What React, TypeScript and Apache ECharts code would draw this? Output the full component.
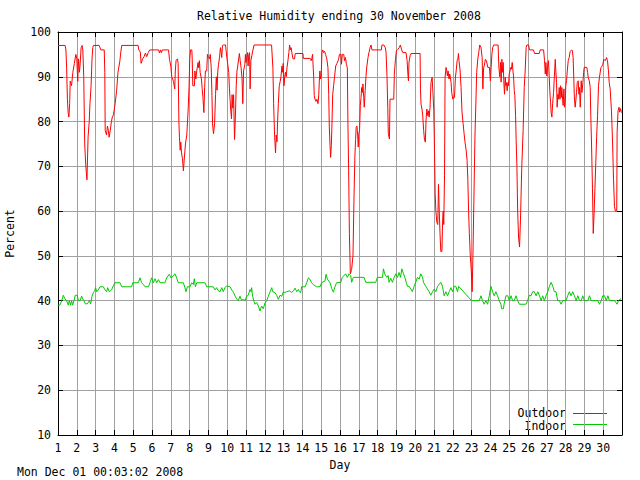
import React, { useEffect, useRef } from "react";
import * as echarts from "echarts";

const FONT = "DejaVu Sans Mono";

const chartTitle = "Relative Humidity ending 30 November 2008";
const footerText = "Mon Dec 01 00:03:02 2008";
const seriesNames = ["Outdoor", "Indoor"];
const dayLabels = Array.from({ length: 30 }, (_, i) => String(i + 1));

// [day of month (fractional), relative humidity %]
const outdoorHumidity: [number, number][] = [
  [1.0, 97], [1.38, 97], [1.42, 96], [1.46, 92], [1.5, 85], [1.54, 82], [1.58, 81], [1.62, 84], [1.65, 89],
  [1.72, 88], [1.79, 91], [1.87, 93], [1.95, 95], [2.0, 94], [2.05, 89], [2.09, 94], [2.14, 91], [2.18, 93],
  [2.23, 96.5], [2.28, 97], [2.32, 96], [2.37, 90], [2.42, 75], [2.48, 70], [2.54, 67], [2.6, 76.5], [2.66, 80],
  [2.7, 84], [2.76, 88], [2.81, 94], [2.85, 96.5], [2.89, 97], [3.19, 97], [3.28, 96], [3.46, 96], [3.49, 91],
  [3.51, 78], [3.58, 77], [3.63, 79], [3.68, 78], [3.72, 76.5], [3.78, 78], [3.84, 80], [3.89, 81], [3.95, 81.5],
  [4.04, 84], [4.12, 87], [4.19, 91], [4.29, 93.5], [4.34, 95.5], [4.39, 97], [5.26, 97], [5.3, 96], [5.38, 95.5],
  [5.42, 93], [5.5, 94], [5.58, 94.5], [5.65, 95.3], [5.72, 94.5], [5.8, 95.4], [5.88, 96], [6.35, 96], [6.4, 95.3],
  [6.45, 96], [6.5, 95.4], [6.55, 96], [6.88, 96], [6.93, 93.9], [7.0, 92.4], [7.05, 90], [7.14, 89], [7.21, 87.3],
  [7.24, 91.3], [7.28, 93.6], [7.35, 94], [7.39, 93], [7.43, 80], [7.46, 76.5], [7.5, 73.6], [7.53, 75.4], [7.57, 73],
  [7.62, 71.7], [7.67, 69], [7.71, 71.3], [7.78, 75], [7.85, 77], [7.92, 82.4], [7.97, 87.6], [8.01, 94], [8.05, 96],
  [8.12, 96], [8.14, 94], [8.17, 88], [8.26, 88], [8.28, 91.3], [8.33, 89.5], [8.38, 91.3], [8.45, 93.2], [8.49, 92],
  [8.52, 93.6], [8.56, 91], [8.63, 89.5], [8.67, 87.3], [8.71, 85.4], [8.76, 82], [8.8, 87.6], [8.84, 91.3],
  [8.91, 91.3], [8.95, 95], [8.99, 94.3], [9.06, 94], [9.1, 95], [9.15, 92], [9.19, 85.8], [9.22, 79.5], [9.27, 77.3],
  [9.33, 79.5], [9.38, 86], [9.42, 90], [9.46, 87], [9.5, 91.3], [9.54, 92.8], [9.59, 94.3], [9.64, 96.5],
  [9.68, 95.4], [9.71, 94.3], [9.75, 97], [9.8, 97.1], [9.91, 97.1], [9.94, 96], [9.98, 94.3], [10.03, 92.8],
  [10.08, 91], [10.12, 87.3], [10.19, 82.4], [10.23, 80.6], [10.26, 86], [10.3, 83], [10.34, 86], [10.39, 76],
  [10.44, 81.7], [10.48, 88], [10.52, 91.3], [10.56, 92.4], [10.61, 94], [10.65, 95.2], [10.69, 93.6], [10.74, 92],
  [10.79, 89.5], [10.83, 84], [10.87, 91.3], [10.94, 92.8], [10.97, 95], [11.0, 93.2], [11.04, 94.3], [11.08, 95.4],
  [11.11, 92.4], [11.15, 95], [11.19, 95.4], [11.22, 87.3], [11.26, 93.6], [11.31, 94.7], [11.37, 96], [11.43, 97.1],
  [12.36, 97.1], [12.43, 92], [12.47, 84], [12.52, 77], [12.57, 73], [12.61, 77], [12.65, 75.5], [12.68, 80],
  [12.72, 84], [12.77, 88], [12.82, 89], [12.86, 90], [12.91, 92.4], [12.95, 91], [12.98, 93], [13.02, 88],
  [13.06, 90], [13.1, 91], [13.14, 90], [13.18, 92], [13.23, 93.6], [13.28, 95.4], [13.32, 97.1], [13.36, 96],
  [13.4, 96.5], [13.44, 95.4], [13.5, 94], [13.58, 94], [13.62, 95.2], [14.03, 95.2], [14.05, 94.1], [14.42, 94.1],
  [14.47, 93.6], [14.5, 94.1], [14.54, 95], [14.6, 90], [14.63, 85.8], [14.67, 85], [14.72, 84.5], [14.77, 85],
  [14.83, 84], [14.87, 86], [14.9, 89], [14.93, 91.3], [14.97, 89.5], [15.0, 90], [15.04, 95.4], [15.08, 96],
  [15.13, 95.4], [15.18, 95.7], [15.23, 95], [15.26, 94.6], [15.3, 94], [15.36, 92], [15.4, 86], [15.43, 79],
  [15.47, 74.7], [15.5, 72], [15.54, 74.7], [15.57, 79], [15.61, 86], [15.66, 88], [15.71, 90], [15.77, 92.4],
  [15.84, 93], [15.9, 93.6], [15.93, 94], [15.97, 95], [16.05, 95], [16.08, 92.8], [16.12, 95], [16.2, 95],
  [16.24, 93.6], [16.29, 94.3], [16.34, 92.8], [16.39, 92], [16.42, 80], [16.46, 69], [16.5, 55], [16.55, 46],
  [16.62, 47], [16.69, 50], [16.74, 62], [16.79, 72], [16.83, 76], [16.86, 78.7], [16.9, 79], [16.94, 77],
  [16.97, 74.3], [17.0, 77.3], [17.04, 78], [17.08, 83.6], [17.12, 85.4], [17.15, 87.6], [17.19, 86.5], [17.22, 88.4],
  [17.26, 85.4], [17.29, 83.2], [17.34, 86.9], [17.38, 90], [17.43, 92.4], [17.49, 94.3], [17.54, 95.4], [17.6, 96.5],
  [17.65, 97.1], [17.7, 96], [18.2, 96], [18.23, 97.1], [18.33, 97.1], [18.41, 96.5], [18.45, 95.4], [18.5, 90],
  [18.54, 83.2], [18.57, 77.3], [18.63, 76.1], [18.66, 85], [18.86, 85], [18.89, 90.6], [18.95, 93.9], [19.0, 95.8],
  [19.07, 96.1], [19.15, 96.5], [19.21, 97.1], [19.28, 96], [19.34, 95.4], [19.51, 95.4], [19.57, 93.6], [19.6, 91.3],
  [19.64, 89.1], [19.67, 93.2], [19.73, 94.7], [19.78, 95.2], [20.26, 95.2], [20.28, 87.3], [20.31, 83.9],
  [20.36, 82.8], [20.4, 81.3], [20.45, 78], [20.49, 76.1], [20.54, 75.4], [20.58, 80.6], [20.62, 82.8], [20.67, 81.3],
  [20.71, 82.4], [20.74, 81], [20.79, 83.2], [20.84, 88.7], [20.9, 89.9], [20.95, 86], [20.99, 82.4], [21.03, 72.8],
  [21.06, 64], [21.1, 60], [21.15, 57.5], [21.2, 57], [21.24, 66], [21.28, 60], [21.32, 55], [21.36, 51], [21.42, 51],
  [21.46, 58], [21.49, 60], [21.52, 57], [21.56, 68], [21.59, 89.9], [21.64, 92.1], [21.68, 91.3], [21.71, 90.2],
  [21.75, 91.3], [21.8, 89.5], [21.84, 90.6], [21.88, 89.5], [21.91, 88.7], [21.94, 86.5], [22.0, 85], [22.05, 85.4],
  [22.09, 85.4], [22.14, 89.9], [22.19, 91.7], [22.23, 93.6], [22.27, 94], [22.3, 95.2], [22.33, 93.6], [22.39, 91.3],
  [22.44, 87.6], [22.49, 82.1], [22.55, 79.5], [22.6, 77.3], [22.65, 75.4], [22.71, 73.6], [22.76, 71.3], [22.8, 67],
  [22.84, 60], [22.88, 55], [22.93, 50], [22.98, 47], [23.03, 42], [23.07, 50], [23.12, 62], [23.18, 77], [23.24, 86],
  [23.27, 91], [23.33, 94], [23.38, 95.4], [23.43, 97.1], [23.5, 96.5], [23.56, 94.3], [23.6, 87.3], [23.64, 92.1],
  [23.68, 92.5], [23.73, 93.9], [23.79, 93.6], [23.86, 92.1], [23.95, 92.1], [24.0, 89.1], [24.04, 92.1], [24.08, 95],
  [24.12, 96.5], [24.18, 97.1], [24.41, 97.1], [24.45, 92.1], [24.5, 90], [24.54, 93.2], [24.57, 88.8], [24.61, 93.9],
  [24.65, 91], [24.68, 93.2], [24.72, 88.4], [24.75, 86.1], [24.79, 89.9], [24.82, 88], [24.86, 88.7], [24.89, 86.9],
  [24.93, 88.7], [24.96, 88], [25.0, 90.6], [25.04, 91.3], [25.09, 92.1], [25.12, 91.7], [25.16, 93.2], [25.2, 91.3],
  [25.23, 90.2], [25.27, 86.9], [25.3, 85.8], [25.34, 81.3], [25.37, 75.8], [25.41, 70], [25.45, 60], [25.5, 54],
  [25.55, 52], [25.6, 58], [25.67, 70], [25.74, 78], [25.8, 87.6], [25.85, 91.3], [25.9, 96.5], [25.94, 97.1],
  [26.03, 97.1], [26.08, 96], [26.29, 96], [26.35, 95.2], [26.6, 95.2], [26.65, 96], [26.83, 96], [26.88, 93.6],
  [26.92, 90.6], [26.95, 93.2], [27.0, 90.2], [27.04, 92.1], [27.09, 93.6], [27.13, 89.9], [27.16, 86.9], [27.2, 84.3],
  [27.23, 82.1], [27.27, 81], [27.31, 84], [27.36, 86.5], [27.4, 89.9], [27.45, 93.9], [27.48, 91.3], [27.52, 88.7],
  [27.55, 83.2], [27.59, 86.1], [27.62, 85], [27.66, 87.6], [27.7, 85], [27.73, 88], [27.77, 85.4], [27.8, 87.6],
  [27.84, 85], [27.87, 83.6], [27.91, 87.3], [27.94, 83.2], [27.98, 84.3], [28.01, 88], [28.05, 89.1], [28.09, 91.3],
  [28.14, 93.6], [28.19, 94.3], [28.24, 95.6], [28.32, 96], [28.36, 95.8], [28.4, 94.3], [28.44, 89.1], [28.47, 85],
  [28.51, 83.2], [28.55, 85], [28.58, 86.5], [28.62, 88.7], [28.67, 89.1], [28.71, 86.1], [28.74, 87.6], [28.78, 83.2],
  [28.83, 89.1], [28.87, 86.5], [28.92, 88.7], [28.96, 91], [28.99, 92.1], [29.13, 92.1], [29.17, 91], [29.2, 89.9],
  [29.26, 89.1], [29.31, 87.6], [29.34, 81.3], [29.38, 75], [29.43, 65], [29.47, 55], [29.52, 60], [29.6, 70],
  [29.65, 76.5], [29.7, 81.3], [29.75, 88], [29.8, 89.9], [29.88, 92.1], [29.93, 92.3], [29.98, 92.8], [30.04, 93.9],
  [30.11, 93.6], [30.18, 94.3], [30.23, 93.6], [30.28, 91.3], [30.32, 88.7], [30.37, 87.3], [30.44, 82.4], [30.5, 75],
  [30.55, 67], [30.6, 61], [30.65, 60], [30.72, 60], [30.74, 77.6], [30.79, 82.4], [30.84, 83.2], [30.87, 82.1],
  [30.92, 82.9], [30.97, 82],
];

const indoorHumidity: [number, number][] = [
  [1.0, 39], [1.1, 39], [1.2, 40], [1.28, 41.2], [1.37, 40.4], [1.46, 40], [1.55, 39], [1.6, 40], [1.67, 39],
  [1.72, 40], [1.78, 39], [1.85, 40], [1.92, 41.2], [2.03, 41.2], [2.08, 40], [2.17, 40], [2.26, 41], [2.31, 40.4],
  [2.38, 40], [2.45, 39.3], [2.56, 39.3], [2.67, 40], [2.74, 39.3], [2.81, 41], [2.88, 41.8], [2.95, 42.2], [3.0, 42.9],
  [3.06, 42], [3.14, 42.4], [3.23, 43.1], [3.41, 43.1], [3.5, 42.4], [3.59, 42], [3.64, 42.9], [3.73, 42],
  [3.85, 42.4], [3.94, 43.3], [4.03, 44], [4.3, 44], [4.39, 43.1], [4.92, 43.1], [4.97, 44], [5.27, 44], [5.36, 45.1],
  [5.45, 44], [5.54, 43.6], [5.63, 43.1], [5.81, 43.1], [5.89, 44], [5.98, 45.1], [6.07, 44], [6.16, 44.9], [6.25, 44],
  [6.34, 44.7], [6.43, 44], [6.69, 44], [6.78, 45.1], [6.92, 45.9], [7.01, 45.1], [7.13, 45.5], [7.22, 46],
  [7.31, 45.1], [7.4, 44], [7.67, 44], [7.75, 42.9], [7.81, 42], [7.88, 43.1], [8.02, 43.1], [8.11, 44], [8.2, 43.6],
  [8.25, 44.9], [8.31, 43.1], [8.38, 44], [8.82, 44], [8.91, 43.1], [9.26, 43.1], [9.35, 42.4], [9.44, 42.9],
  [9.53, 42.2], [9.62, 42], [9.71, 42.9], [9.79, 42], [9.88, 42.9], [9.97, 43.3], [10.15, 43.1], [10.24, 42.4],
  [10.33, 41.9], [10.42, 41], [10.5, 40.4], [10.59, 40], [10.68, 41], [10.77, 40], [10.86, 40.4], [10.95, 40],
  [11.04, 41], [11.12, 41.2], [11.21, 42.5], [11.27, 42], [11.3, 42.9], [11.35, 41], [11.43, 39.8], [11.48, 39.2],
  [11.57, 39.6], [11.66, 38.8], [11.74, 37.7], [11.83, 38.8], [11.92, 38.2], [12.01, 39.5], [12.1, 40], [12.19, 41],
  [12.28, 42], [12.37, 42.9], [12.42, 42], [12.54, 41.8], [12.63, 41.2], [12.72, 40.3], [12.81, 41.2], [12.9, 41],
  [12.99, 42], [13.07, 41.8], [13.16, 42], [13.34, 42.2], [13.43, 41.8], [13.52, 42.2], [13.61, 42.8], [13.7, 42],
  [13.79, 42.5], [13.84, 42], [13.91, 41.8], [13.96, 43.1], [14.14, 43.1], [14.23, 44], [14.32, 45.1], [14.4, 44.8],
  [14.49, 44], [14.58, 43.6], [14.76, 43.1], [14.94, 43.1], [15.02, 44], [15.2, 44.4], [15.26, 45.9], [15.33, 44.8],
  [15.47, 44], [15.56, 42.7], [15.65, 41.9], [15.73, 43.1], [15.82, 44], [16.04, 44.1], [16.12, 45.2], [16.3, 46],
  [16.39, 45.2], [16.48, 46], [16.57, 45.6], [16.62, 44.1], [16.71, 45.2], [17.28, 45.2], [17.37, 44.1], [17.9, 44.1],
  [17.99, 45.2], [18.26, 45.2], [18.31, 47.1], [18.38, 46], [18.49, 45.2], [18.56, 45.6], [18.61, 44.1], [18.7, 45],
  [18.79, 44.1], [18.88, 45.2], [18.97, 46], [19.06, 45.2], [19.14, 46.3], [19.22, 45.2], [19.29, 47.1], [19.38, 46],
  [19.45, 45.2], [19.52, 44.1], [19.59, 43.2], [19.68, 43.2], [19.77, 42.6], [19.85, 42], [19.94, 43.2], [20.03, 44.1],
  [20.12, 45.2], [20.21, 44.8], [20.3, 46], [20.39, 45.2], [20.44, 44.1], [20.56, 43.2], [20.65, 42.6], [20.74, 42],
  [20.83, 41.2], [20.92, 42], [21.01, 42.6], [21.1, 42], [21.19, 43.2], [21.28, 43.7], [21.36, 44.1], [21.45, 43.2],
  [21.54, 41.1], [21.63, 42], [21.72, 41.1], [21.81, 42], [21.9, 42.9], [21.99, 42], [22.07, 43.2], [22.16, 43.2],
  [22.25, 42], [22.31, 43.2], [23.0, 40], [23.41, 40], [23.5, 41.1], [23.58, 40], [23.67, 39.2], [23.76, 40],
  [23.85, 39.2], [23.94, 41.1], [24.03, 43.2], [24.12, 42], [24.2, 41.1], [24.29, 42], [24.38, 41.1], [24.47, 40],
  [24.56, 39.2], [24.6, 38.2], [24.69, 38.2], [24.74, 39.5], [24.83, 41.1], [24.92, 41.1], [25.01, 40], [25.1, 41.1],
  [25.18, 40], [25.27, 40], [25.36, 41.1], [25.45, 40], [25.54, 39.2], [25.89, 39.2], [25.98, 40], [26.07, 41.2],
  [26.16, 41.1], [26.25, 42], [26.34, 42], [26.43, 41.1], [26.52, 42], [26.61, 41.1], [26.7, 40], [26.78, 41.1],
  [26.87, 40], [26.96, 41.1], [27.05, 42], [27.14, 43.2], [27.23, 44.1], [27.32, 43.2], [27.4, 42], [27.49, 42],
  [27.58, 40], [27.67, 40], [27.76, 39.2], [27.85, 40], [28.02, 40], [28.11, 41.1], [28.2, 42], [28.29, 41.1],
  [28.38, 42], [28.47, 41.1], [28.56, 40], [28.65, 41.1], [28.74, 40], [28.83, 40], [28.91, 41.1], [29.0, 40],
  [29.18, 40], [29.27, 41.1], [29.36, 40], [29.71, 40], [29.8, 39.2], [29.89, 40], [29.98, 41.1], [30.07, 41.1],
  [30.16, 40], [30.25, 41.1], [30.33, 40], [30.6, 40], [30.69, 39.5], [30.74, 39.2], [30.81, 40], [30.96, 40.5],
];

const seriesColors = ["#ff0000", "#00c800"];

export default function App() {
  const ref = useRef<HTMLDivElement>(null);

  useEffect(() => {
    if (!ref.current) return;
    const chart = echarts.init(ref.current, undefined, { renderer: "svg" });
    const txt = { fontFamily: FONT, fontSize: 11.5, color: "#000" };
    const gridGray = { lineStyle: { color: "#a0a0a0", width: 1 } };
    const blackLine = { show: true, onZero: false, lineStyle: { color: "#000", width: 1 } };
    const tick = { show: true, inside: true, length: 5, lineStyle: { color: "#000" } };
    const legendFont = `11.5px "${FONT}"`;

    chart.setOption({
      animation: false,
      backgroundColor: "#fff",
      title: {
        text: chartTitle,
        left: 197,
        top: 10,
        padding: 0,
        textStyle: { ...txt, fontWeight: "normal" },
      },
      grid: {
        left: 58,
        right: 18,
        top: 32,
        bottom: 45,
        containLabel: false,
        outerBoundsMode: "none",
      },
      xAxis: [
        {
          type: "value",
          min: 1,
          max: 31,
          interval: 1,
          position: "bottom",
          name: "Day",
          nameLocation: "middle",
          nameGap: 23,
          nameTextStyle: txt,
          axisLine: blackLine,
          axisTick: tick,
          splitLine: { show: true, ...gridGray },
          axisLabel: {
            ...txt,
            margin: 7,
            formatter: (v: number) => dayLabels[v - 1] ?? "",
          },
        },
        {
          type: "value",
          min: 1,
          max: 31,
          interval: 1,
          position: "top",
          axisLine: blackLine,
          axisTick: tick,
          splitLine: { show: false },
          axisLabel: { show: false },
        },
      ],
      yAxis: [
        {
          type: "value",
          min: 10,
          max: 100,
          interval: 10,
          position: "left",
          name: "Percent",
          nameLocation: "middle",
          nameRotate: 90,
          nameGap: 42,
          nameTextStyle: txt,
          axisLine: blackLine,
          axisTick: tick,
          splitLine: { show: true, ...gridGray },
          axisLabel: { ...txt, margin: 7 },
        },
        {
          type: "value",
          min: 10,
          max: 100,
          interval: 10,
          position: "right",
          axisLine: blackLine,
          axisTick: tick,
          splitLine: { show: false },
          axisLabel: { show: false },
        },
      ],
      series: [
        {
          name: seriesNames[0],
          type: "line",
          data: outdoorHumidity,
          showSymbol: false,
          color: seriesColors[0],
          lineStyle: { width: 1, color: seriesColors[0] },
          z: 3,
        },
        {
          name: seriesNames[1],
          type: "line",
          data: indoorHumidity,
          showSymbol: false,
          color: seriesColors[1],
          lineStyle: { width: 1, color: seriesColors[1] },
          z: 4,
        },
      ],
      graphic: [
        {
          type: "text",
          left: 17,
          top: 466,
          style: { text: footerText, font: legendFont, fill: "#000" },
        },
        {
          type: "text",
          x: 566,
          y: 413,
          style: {
            text: seriesNames[0],
            font: legendFont,
            fill: "#000",
            align: "right",
            verticalAlign: "middle",
          },
        },
        {
          type: "line",
          shape: { x1: 573, y1: 413.5, x2: 607, y2: 413.5 },
          style: { stroke: seriesColors[0], lineWidth: 1 },
        },
        {
          type: "text",
          x: 566,
          y: 426,
          style: {
            text: seriesNames[1],
            font: legendFont,
            fill: "#000",
            align: "right",
            verticalAlign: "middle",
          },
        },
        {
          type: "line",
          shape: { x1: 573, y1: 424.5, x2: 607, y2: 424.5 },
          style: { stroke: seriesColors[1], lineWidth: 1 },
        },
      ],
    });
    return () => chart.dispose();
  }, []);

  return (
    <div
      ref={ref}
      style={{ position: "absolute", left: 0, top: 0, width: 640, height: 480 }}
    />
  );
}
